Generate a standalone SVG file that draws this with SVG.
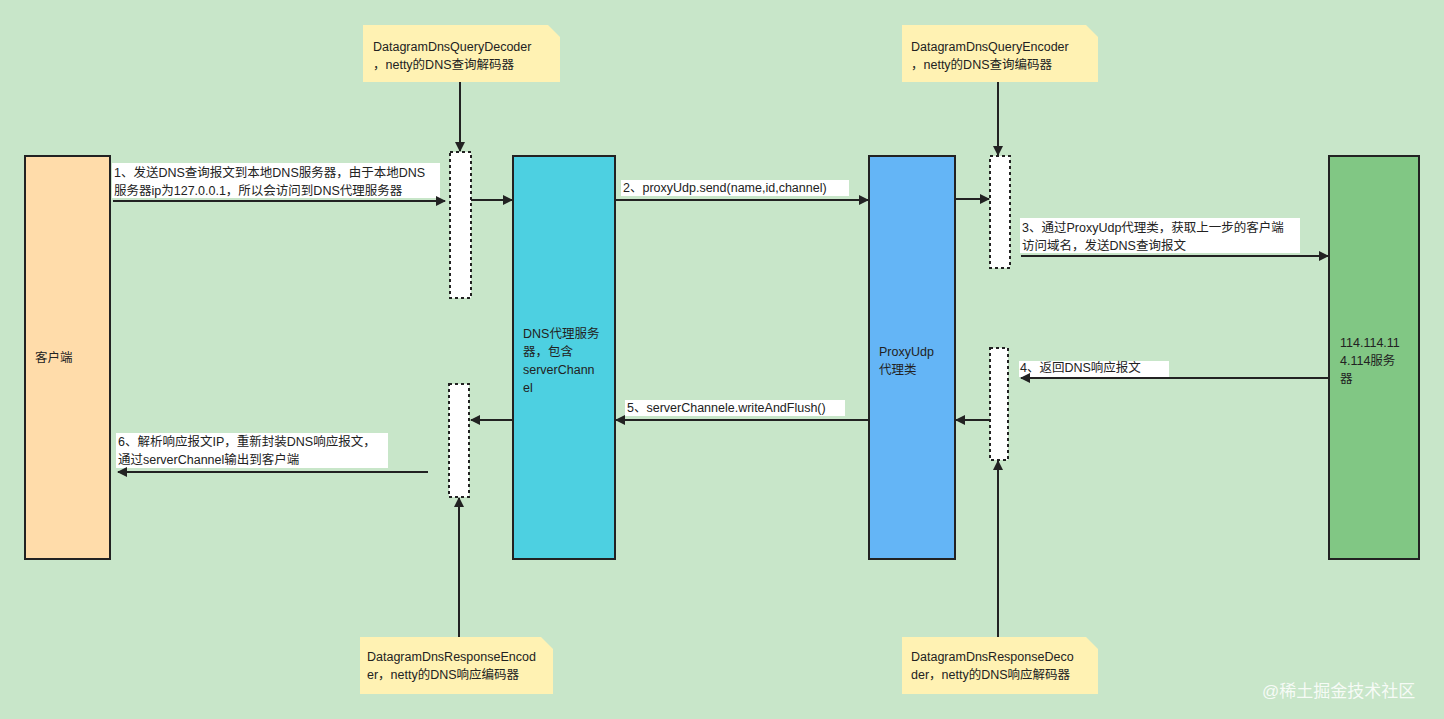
<svg xmlns="http://www.w3.org/2000/svg" width="1444" height="719" viewBox="0 0 1444 719">
<defs>
<marker id="a" viewBox="0 0 10 10" refX="9" refY="5" markerWidth="10" markerHeight="10" markerUnits="userSpaceOnUse" orient="auto"><path d="M0,0 L10,5 L0,10 Z" fill="#222"/></marker>
<style>
text{font-family:"Liberation Sans","Noto Sans CJK SC",sans-serif;font-size:12.5px;fill:#222}
.n{stroke:#222;stroke-width:2}
.d{fill:#fff;stroke:#222;stroke-width:2;stroke-dasharray:3 3}
.note{fill:#fff2b3}
.c{stroke:#222;stroke-width:2;fill:none;marker-end:url(#a)}
.lb{fill:#fff}
</style>
</defs>
<rect width="1444" height="719" fill="#c8e6c9"/>
<g id="client"><rect class="n" x="25" y="156" width="85" height="403" fill="#ffdcaa"/><text x="35" y="362">客户端</text></g>
<g id="dec1"><rect class="d" x="450" y="152" width="21" height="146"/></g>
<g id="enc1"><rect class="d" x="449" y="384" width="20" height="113"/></g>
<g id="dnsproxy"><rect class="n" x="513" y="156" width="102" height="403" fill="#4dd0e1"/><text x="523" y="338">DNS代理服务</text><text x="523" y="356">器，包含</text><text x="523" y="374">serverChann</text><text x="523" y="392">el</text></g>
<g id="proxyudp"><rect class="n" x="869" y="156" width="86" height="403" fill="#64b5f6"/><text x="879" y="356">ProxyUdp</text><text x="879" y="374">代理类</text></g>
<g id="enc2"><rect class="d" x="990" y="156" width="20" height="112"/></g>
<g id="dec2"><rect class="d" x="990" y="348" width="18" height="112"/></g>
<g id="server"><rect class="n" x="1329" y="156" width="90" height="403" fill="#81c784"/><text x="1340" y="347">114.114.11</text><text x="1340" y="365">4.114服务</text><text x="1340" y="383">器</text></g>
<g id="note1"><path class="note" d="M363,25 H548 L560,37 V82 H363 Z"/><text x="373" y="51">DatagramDnsQueryDecoder</text><text x="373" y="69">，netty的DNS查询解码器</text></g>
<g id="note2"><path class="note" d="M902,25 H1086 L1098,37 V82 H902 Z"/><text x="911" y="51">DatagramDnsQueryEncoder</text><text x="911" y="69">，netty的DNS查询编码器</text></g>
<g id="note3"><path class="note" d="M360,637 H541 L553,649 V694 H360 Z"/><text x="367" y="661">DatagramDnsResponseEncod</text><text x="367" y="679">er，netty的DNS响应编码器</text></g>
<g id="note4"><path class="note" d="M902,637 H1086 L1098,649 V694 H902 Z"/><text x="911" y="661">DatagramDnsResponseDeco</text><text x="911" y="679">der，netty的DNS响应解码器</text></g>
<g id="connectors">
<path class="c" d="M460,82 V151"/>
<path class="c" d="M998,82 V155"/>
<path class="c" d="M459,637 V498"/>
<path class="c" d="M998,637 V461"/>
<rect class="lb" x="112" y="163" width="328" height="35"/>
<text x="114" y="177">1、发送DNS查询报文到本地DNS服务器，由于本地DNS</text><text x="114" y="195">服务器ip为127.0.0.1，所以会访问到DNS代理服务器</text>
<path class="c" d="M113,201 H445"/>
<path class="c" d="M471,200 H512"/>
<rect class="lb" x="621" y="180" width="228" height="16"/>
<text x="623" y="192">2、proxyUdp.send(name,id,channel)</text>
<path class="c" d="M615,200 H868"/>
<path class="c" d="M955,199 H989"/>
<rect class="lb" x="1020" y="218" width="280" height="35"/>
<text x="1022" y="232">3、通过ProxyUdp代理类，获取上一步的客户端</text><text x="1022" y="250">访问域名，发送DNS查询报文</text>
<path class="c" d="M1021,256 H1328"/>
<rect class="lb" x="1019" y="361" width="150" height="16"/>
<text x="1020" y="372">4、返回DNS响应报文</text>
<path class="c" d="M1329,378 H1021"/>
<path class="c" d="M990,420 H956"/>
<rect class="lb" x="625" y="400" width="220" height="16"/>
<text x="627" y="412">5、serverChannele.writeAndFlush()</text>
<path class="c" d="M869,420 H616"/>
<path class="c" d="M513,420 H471"/>
<rect class="lb" x="116" y="433" width="272" height="35"/>
<text x="118" y="446">6、解析响应报文IP，重新封装DNS响应报文，</text><text x="118" y="464">通过serverChannel输出到客户端</text>
<path class="c" d="M428,472 H118"/>
</g>
<text x="1262" y="697" style="font-size:17px;fill:#fff;opacity:0.85">@稀土掘金技术社区</text>
</svg>
